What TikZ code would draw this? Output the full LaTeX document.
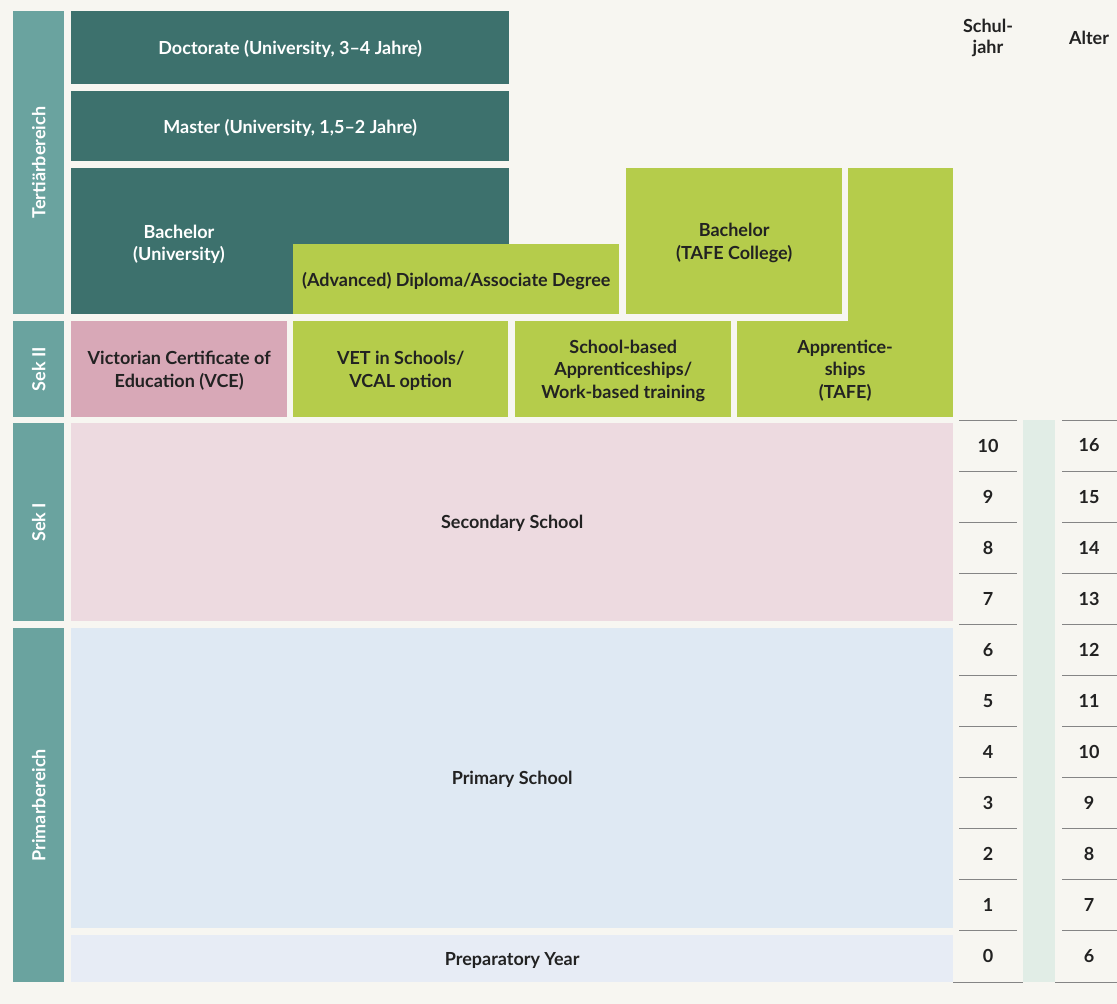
\documentclass[tikz,border=0pt]{standalone}
\usepackage{fontspec}
\setmainfont{Lato}
\definecolor{bgcream}{HTML}{F7F6F1}
\definecolor{sidecol}{HTML}{6AA39F}
\definecolor{uniteal}{HTML}{3D716D}
\definecolor{vetlime}{HTML}{B5CC4B}
\definecolor{vcepink}{HTML}{D8A8B7}
\definecolor{secpink}{HTML}{EDDAE0}
\definecolor{primblue}{HTML}{DFE9F3}
\definecolor{prepblue}{HTML}{E7ECF5}
\definecolor{agegreen}{HTML}{E1EDE6}
\definecolor{inkdark}{HTML}{222222}
\definecolor{rulegray}{HTML}{858585}
\tikzset{
  cellbox/.style={draw=none, inner sep=0pt, anchor=north west, align=center,
    text depth=0pt, font=\bfseries\fontsize{18}{22.5}\selectfont, text=inkdark},
  darkbox/.style={cellbox, fill=uniteal, text=white},
  limebox/.style={cellbox, fill=vetlime},
  sidebox/.style={cellbox, fill=sidecol, text=white},
  sidetext/.style={rotate=90, text=white, font=\bfseries\fontsize{18}{20}\selectfont},
  numtext/.style={text=inkdark, font=\bfseries\fontsize{18}{21}\selectfont},
  yearrule/.style={draw=rulegray, line width=1pt}
}
\begin{document}
\begin{tikzpicture}[x=1pt,y=-1pt]
  % page
  \fill[bgcream] (0,0) rectangle (1117,1004);
  \useasboundingbox (0,0) rectangle (1117,1004);

  % side labels
  \node[sidebox, minimum width=51, minimum height=303] (tert) at (13,11) {};
  \node[sidetext] (terttxt) at (tert.center) {Tertiärbereich};
  \node[sidebox, minimum width=51, minimum height=96] (sek2) at (13,321) {};
  \node[sidetext] (sek2txt) at (sek2.center) {Sek II};
  \node[sidebox, minimum width=51, minimum height=198] (sek1) at (13,423) {};
  \node[sidetext] (sek1txt) at (sek1.center) {Sek I};
  \node[sidebox, minimum width=51, minimum height=354] (prim) at (13,628) {};
  \node[sidetext] (primtxt) at (prim.center) {Primarbereich};

  % tertiary
  \node[darkbox, minimum width=438, minimum height=73] (doc) at (71,11) {Doctorate (University, 3–4 Jahre)};
  \node[darkbox, minimum width=438, minimum height=70] (mas) at (71,91) {Master (University, 1,5–2 Jahre)};
  \node[darkbox, minimum width=438, minimum height=146] (bachu) at (71,168) {};
  \node[text=white, align=center, text depth=0pt, font=\bfseries\fontsize{18}{22.5}\selectfont] (bachutxt) at (179,243) {Bachelor\\(University)};
  \node[limebox, minimum width=326, minimum height=70] (dipl) at (293,244) {(Advanced) Diploma/Associate Degree};
  \node[limebox, minimum width=216, minimum height=146] (bacht) at (626,168) {Bachelor\\(TAFE College)};
  \node[limebox, minimum width=105, minimum height=249] (apprtall) at (848,168) {};

  % upper secondary
  \node[cellbox, fill=vcepink, minimum width=216, minimum height=96] (vce) at (71,321) {Victorian Certificate of\\Education (VCE)};
  \node[limebox, minimum width=215, minimum height=96] (vet) at (293,321) {VET in Schools/\\VCAL option};
  \node[limebox, minimum width=216, minimum height=96] (sba) at (515,321) {School-based\\Apprenticeships/\\Work-based training};
  \node[limebox, minimum width=216, minimum height=96] (appr) at (737,321) {Apprentice-\\ships\\(TAFE)};

  % compulsory schooling
  \node[cellbox, fill=secpink, minimum width=882, minimum height=198] (sec) at (71,423) {Secondary School};
  \node[cellbox, fill=primblue, minimum width=882, minimum height=300] (pri) at (71,628) {Primary School};
  \node[cellbox, fill=prepblue, minimum width=882, minimum height=47] (prep) at (71,935) {Preparatory Year};

  % year / age table
  \node[numtext, align=center] (hyear) at (988,38) {Schul-\\jahr};
  \node[numtext] (hage) at (1089,38) {Alter};
  \fill[agegreen] (1023,420) rectangle (1055,982);
  \foreach \k in {0,...,10} {
    \pgfmathsetmacro{\yy}{420+51.09*\k}
    \draw[yearrule] (959,\yy) -- (1017,\yy);
    \draw[yearrule] (1062,\yy) -- (1117,\yy);
  }
  \coordinate (ybl) at (953,982);
  \coordinate (ybr) at (1023,982);
  \coordinate (abl) at (1055,982);
  \coordinate (abr) at (1117,982);
  \draw[yearrule] (ybl) -- (ybr);
  \draw[yearrule] (abl) -- (abr);
  \foreach \k in {0,...,10} {
    \pgfmathsetmacro{\yy}{420+51.09*(\k+0.5)}
    \pgfmathtruncatemacro{\yr}{10-\k}
    \pgfmathtruncatemacro{\ag}{16-\k}
    \node[numtext] (y\k) at (988,\yy) {\yr};
    \node[numtext] (a\k) at (1089,\yy) {\ag};
  }
\end{tikzpicture}
\end{document}
